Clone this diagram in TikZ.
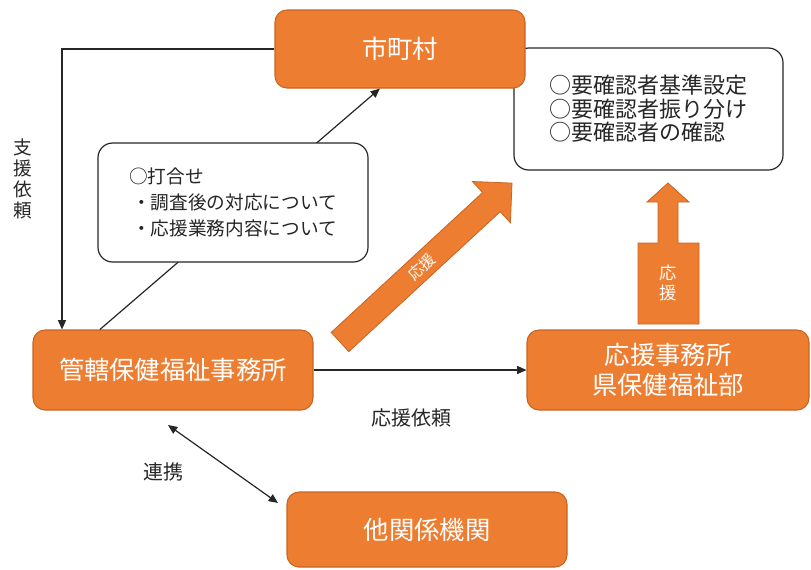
\documentclass[tikz,border=0pt]{standalone}
\usepackage{fontspec}
\setmainfont{Noto Sans CJK JP}
\usetikzlibrary{arrows.meta,calc}
\definecolor{org}{HTML}{ED7D31}
\definecolor{orgline}{HTML}{C96420}
\definecolor{ink}{HTML}{262626}
\tikzset{
  obox/.style={draw=orgline, line width=0.8pt, fill=org, rounded corners=9pt, text=white,
    font=\fontsize{19}{22}\selectfont, align=center, inner sep=0pt},
  wbox/.style={draw=ink, line width=0.9pt, fill=white, rounded corners=11pt, text=ink, align=left, inner sep=0pt},
  conn/.style={draw=ink, line width=0.9pt},
  tip/.style={-{Triangle[length=7pt,width=6pt]}},
  lbl/.style={text=ink, font=\fontsize{15}{17}\selectfont, inner sep=0pt},
  blk/.style={fill=org, draw=orgline, line width=0.6pt}
}
\begin{document}
\begin{tikzpicture}[x=0.75pt,y=-0.75pt]
\useasboundingbox (0,0) rectangle (811,569);
% right white box (behind shi)
\node[wbox, minimum width=201.75pt, minimum height=91.5pt, font=\fontsize{16.5}{17.6}\selectfont] (rbox) at (648.5,109)
  {○要確認者基準設定\\○要確認者振り分け\\○要確認者の確認};
% orange boxes
\node[obox, minimum width=187.5pt, minimum height=58.5pt] (shi) at (400,49) {市町村};
\node[obox, minimum width=210pt, minimum height=60pt] (kan) at (173,370) {管轄保健福祉事務所};
\node[obox, minimum width=211.5pt, minimum height=60pt, font=\fontsize{19}{22.5}\selectfont] (oen) at (668,370) {応援事務所\\県保健福祉部};
\node[obox, minimum width=210pt, minimum height=56.25pt] (ta) at (427,529.5) {他関係機関};
% connectors
\coordinate (cL) at (62,49);
\draw[conn,tip] (shi.west) -- (cL) -- (cL |- kan.north);
\draw[conn,tip] ($(kan.north west)!0.24!(kan.north east)$) -- ($(shi.south west)!0.42!(shi.south east)$);
\draw[conn,tip] (kan.east) -- (oen.west);
\coordinate (r1) at (168,425);
\coordinate (r2) at (278,503);
\draw[conn,{Triangle[length=7pt,width=6pt]}-{Triangle[length=7pt,width=6pt]}] (r1) -- (r2);
% meeting box
\node[wbox, minimum width=202.5pt, minimum height=89.25pt, font=\fontsize{14}{19.5}\selectfont] (uchi) at (233,202.5)
  {○打合せ\\\hspace*{0.15em}・調査後の対応について\\\hspace*{0.15em}・応援業務内容について};
% labels
\node[lbl, align=center, font=\fontsize{14}{15.6}\selectfont] (l1) at (23,179) {支\\援\\依\\頼};
\node[lbl] (l2) at (411,418) {応援依頼};
\node[lbl] (l3) at (163,472) {連携};
% diagonal block arrow
\draw[blk] (331.2,332.4) -- (482.6,192.5) -- (472.4,181.5) -- (512.0,183.1) -- (510.4,222.7) -- (500.2,211.7) -- (348.8,351.6) -- cycle;
\node[text=white, font=\fontsize{11.5}{12}\selectfont, rotate=43, inner sep=0pt] (d1) at (422,267) {応援};
% vertical callout arrow
\draw[blk] (638,324) -- (638,243) -- (658,243) -- (658,202) -- (647,202) -- (668,183) -- (689,202) -- (678,202) -- (678,243) -- (699,243) -- (699,324) -- cycle;
\node[text=white, font=\fontsize{13}{14.5}\selectfont, align=center, inner sep=0pt] (v1) at (668.5,283) {応\\援};
\end{tikzpicture}
\end{document}
